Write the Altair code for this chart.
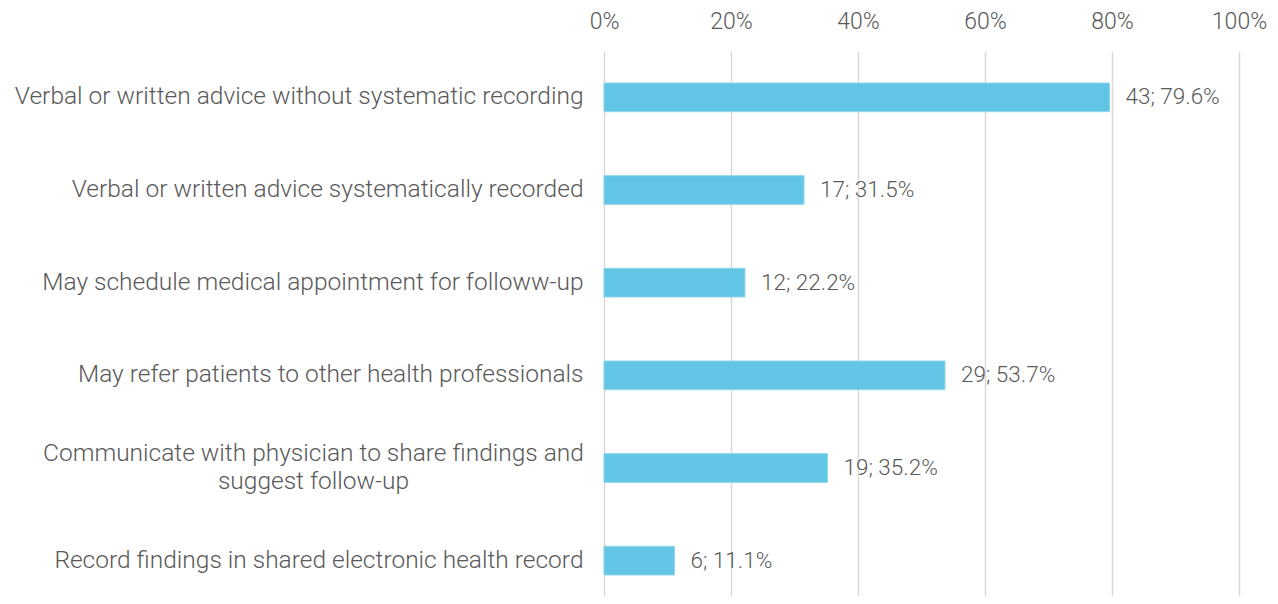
import altair as alt
import pandas as pd

categories = [
    "Verbal or written advice without systematic recording",
    "Verbal or written advice systematically recorded",
    "May schedule medical appointment for followw-up",
    "May refer patients to other health professionals",
    "Communicate with physician to share findings and|suggest follow-up",
    "Record findings in shared electronic health record",
]
counts = [43, 17, 12, 29, 19, 6]
percents = [79.6, 31.5, 22.2, 53.7, 35.2, 11.1]
x_ticks = [0, 20, 40, 60, 80, 100]

df = pd.DataFrame({
    "cat": categories,
    "pct": percents,
    "n": counts,
})
df["label"] = [f"{n}; {p:.1f}%" for n, p in zip(counts, percents)]

FONT = "Roboto"
TXT = "#595959"

MULTI = "indexof(datum.value, '|') > 0"

y_enc = alt.Y(
    "cat:N",
    sort=categories,
    scale=alt.Scale(range=[0, 556], paddingInner=0.69, paddingOuter=0.345),
    axis=alt.Axis(
        title=None, ticks=False, domain=False, grid=False,
        labelFont=FONT, labelFontSize=24.5, labelFontWeight=300, labelColor=TXT,
        labelLimit=0, labelLineHeight=28,
        labelAlign={"condition": {"test": MULTI, "value": "center"}, "value": "right"},
        labelPadding={"condition": {"test": MULTI, "value": 291}, "value": 21},
        labelOffset={"condition": {"test": MULTI, "value": -14}, "value": 0},
        labelExpr="indexof(datum.value, '|') > 0 ? split(datum.value, '|') : datum.value",
    ),
)

x_enc = alt.X(
    "pct:Q",
    scale=alt.Scale(domain=[0, 100], nice=False),
    axis=alt.Axis(
        orient="top", title=None, values=x_ticks, ticks=False, domain=False,
        grid=True, gridColor="#D9D9D9", gridWidth=1.5,
        labelExpr="datum.value + '%'", labelFlush=False,
        labelFont=FONT, labelFontSize=23, labelFontWeight=300, labelColor=TXT,
        labelPadding=18,
    ),
)

bars = alt.Chart(df).mark_bar(color="#63C5E5", stroke="#8FD6EE", strokeWidth=1).encode(
    x=x_enc, y=y_enc
)

text = alt.Chart(df).mark_text(
    align="left", baseline="middle", dx=16, font=FONT, fontSize=22.5,
    fontWeight=300, color=TXT
).encode(x="pct:Q", y=alt.Y("cat:N", sort=categories), text="label:N")

chart = alt.layer(bars, text).properties(
    width=635, height=545,
    autosize=alt.AutoSizeParams(type="none"),
    padding={"left": 596, "top": 43, "right": 31, "bottom": 0},
).configure_view(stroke=None)

chart.save("out.html", embed_options={"renderer": "svg", "actions": False})
